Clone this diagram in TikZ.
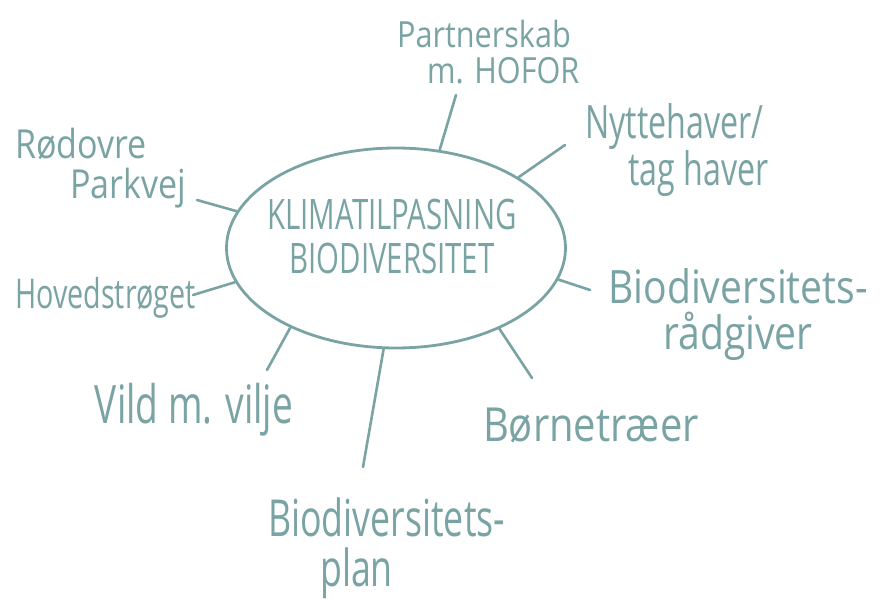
\documentclass[tikz,border=0pt]{standalone}
\usepackage{fontspec}
\setmainfont{Open Sans}
\newfontfamily\handN[FakeStretch=0.7]{Open Sans}
\newfontfamily\handM[FakeStretch=0.85]{Open Sans}
\usetikzlibrary{shapes.geometric}
\definecolor{ink}{RGB}{122,163,164}
\begin{document}
\begin{tikzpicture}[x=1pt,y=-1pt,
  inkline/.style={draw=ink, line width=2.6pt, line cap=round},
  lbl/.style={text=ink, inner sep=0pt},
]
\useasboundingbox[fill=white] (0,0) rectangle (883,599);

% central ellipse
\node[ellipse, draw=ink, line width=2.8pt, minimum width=339pt, minimum height=200pt, inner sep=0pt] (c) at (396,248) {};
\node[lbl, align=center, font=\handN\fontsize{42pt}{44pt}\selectfont] (ct) at (392,236) {KLIMATILPASNING\\BIODIVERSITET};

% labels
\node[lbl, align=left, anchor=west, font=\handM\fontsize{36pt}{36pt}\selectfont] (pa) at (397,52) {Partnerskab\\\hspace*{30pt}m. HOFOR};
\node[lbl, align=left, anchor=west, font=\handN\fontsize{46pt}{44pt}\selectfont] (ny) at (585,150) {Nyttehaver/\\\hspace*{43pt}tag haver};
\node[lbl, align=left, anchor=west, font=\handM\fontsize{40pt}{40pt}\selectfont] (ro) at (15,168) {Rødovre\\\hspace*{55pt}Parkvej};
\node[lbl, anchor=west, font=\handN\fontsize{41pt}{34pt}\selectfont] (ho) at (15,298) {Hovedstrøget};
\node[lbl, align=center, font=\handM\fontsize{46pt}{46pt}\selectfont] (ra) at (738,315) {Biodiversitets-\\rådgiver};
\node[lbl, font=\handN\fontsize{53pt}{42pt}\selectfont] (vi) at (194,410) {Vild m. vilje};
\node[lbl, font=\handM\fontsize{47pt}{44pt}\selectfont] (bo) at (591,425) {Børnetræer};
\node[lbl, align=left, anchor=west, font=\handN\fontsize{51pt}{50pt}\selectfont] (pl) at (268,548) {Biodiversitets-\\\hspace*{52pt}plan};

% free ends of connectors
\coordinate (p1) at (456,95);
\coordinate (n1) at (565,145);
\coordinate (r1) at (197,200);
\coordinate (h1) at (193,295);
\coordinate (b1) at (590,290);
\coordinate (v1) at (267,370);
\coordinate (l1) at (363,467);
\coordinate (o1) at (532,378);

% connectors
\draw[inkline] (c.66) -- (p1);
\draw[inkline] (c.30) -- (n1);
\draw[inkline] (c.167) -- (r1);
\draw[inkline] (c.192) -- (h1);
\draw[inkline] (c.349) -- (b1);
\draw[inkline] (c.217) -- (v1);
\draw[inkline] (c.263) -- (l1);
\draw[inkline] (c.322) -- (o1);
\end{tikzpicture}
\end{document}
